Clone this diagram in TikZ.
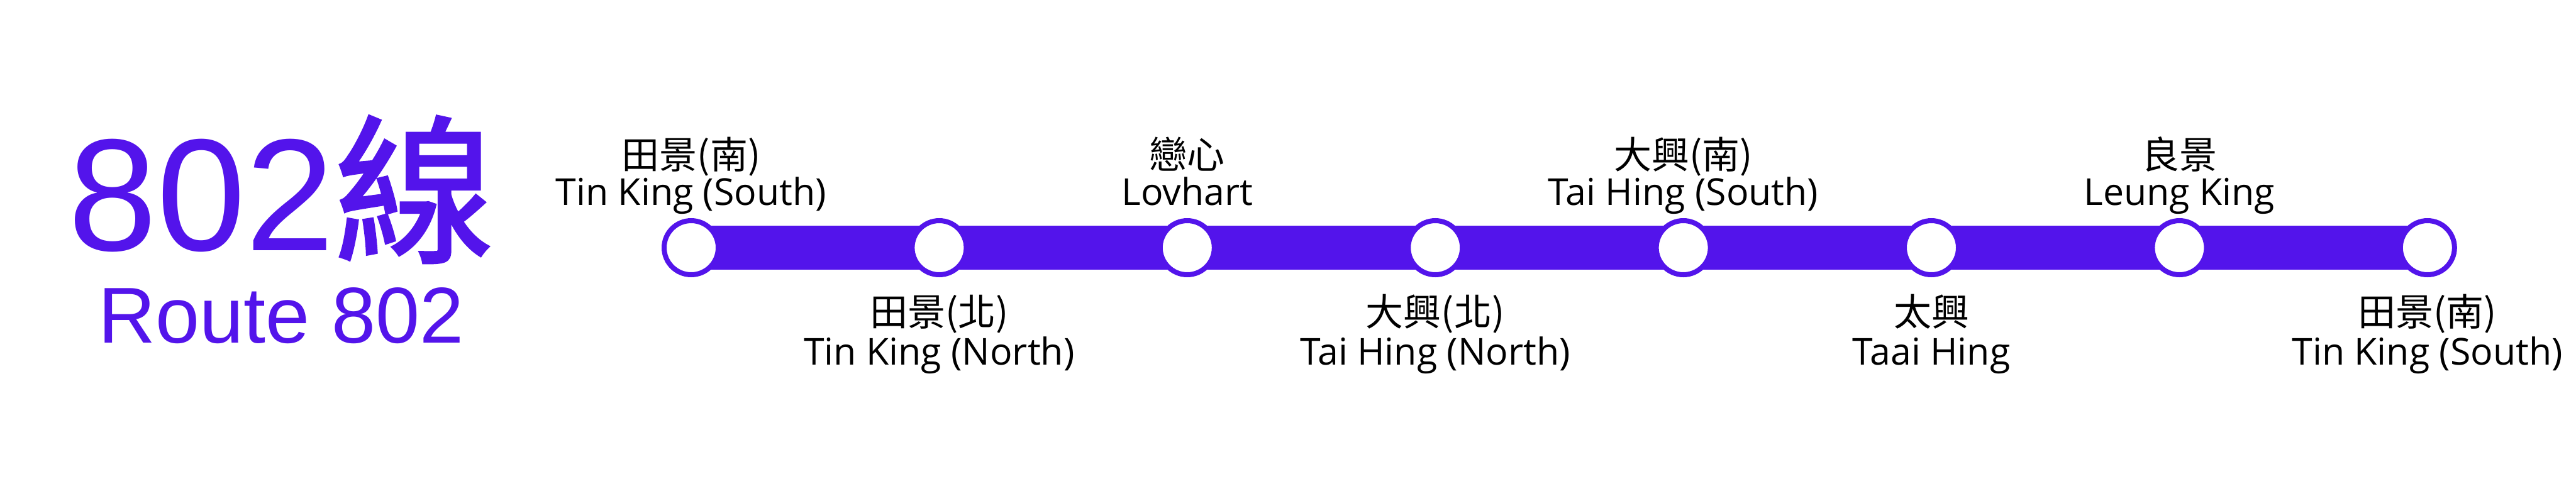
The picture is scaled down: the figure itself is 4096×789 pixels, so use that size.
\documentclass[tikz,border=0pt]{standalone}
\usepackage{fontspec}
\setmainfont{Open Sans}
\newfontfamily\cjk{Noto Sans CJK TC}
\newfontfamily\cjkbold[FakeBold=1.5]{Noto Sans CJK TC}
\newfontfamily\arial{Liberation Sans}
\definecolor{routepurple}{RGB}{83,20,235}
\begin{document}
\begin{tikzpicture}[x=1pt,y=-1pt,
  en/.style={inner sep=0pt, anchor=base, text=black, font=\fontsize{59}{59}\selectfont},
  zh/.style={inner sep=0pt, anchor=base, text=black, font=\cjk\fontsize{60}{60}\selectfont},
  stn/.style={circle, draw=routepurple, line width=8pt, fill=white, minimum size=86pt, inner sep=0pt},
  bar/.style={draw=routepurple, line width=70pt},
  ttl/.style={inner sep=0pt, anchor=base, text=routepurple}
]
\useasboundingbox (0,0) rectangle (4096,789);
\fill[white] (0,0) rectangle (4096,789);

\coordinate (p1) at (1099,394);
\coordinate (p2) at (1493.4,394);
\coordinate (p3) at (1887.8,394);
\coordinate (p4) at (2282.2,394);
\coordinate (p5) at (2676.6,394);
\coordinate (p6) at (3071,394);
\coordinate (p7) at (3465.4,394);
\coordinate (p8) at (3859.8,394);

\draw[bar] (p1) -- (p8);

\node[stn] (s1) at (p1) {};
\node[stn] (s2) at (p2) {};
\node[stn] (s3) at (p3) {};
\node[stn] (s4) at (p4) {};
\node[stn] (s5) at (p5) {};
\node[stn] (s6) at (p6) {};
\node[stn] (s7) at (p7) {};
\node[stn] (s8) at (p8) {};

% labels above
\node[zh] (z1) at (1099,268) {田景(南)};
\node[en] (e1) at (1099,326) {Tin King (South)};
\node[zh] (z3) at (1887.8,268) {戀心};
\node[en] (e3) at (1887.8,326) {Lovhart};
\node[zh] (z5) at (2676.6,268) {大興(南)};
\node[en] (e5) at (2676.6,326) {Tai Hing (South)};
\node[zh] (z7) at (3465.4,268) {良景};
\node[en] (e7) at (3465.4,326) {Leung King};

% labels below
\node[zh] (z2) at (1493.4,518) {田景(北)};
\node[en] (e2) at (1493.4,580) {Tin King (North)};
\node[zh] (z4) at (2282.2,518) {大興(北)};
\node[en] (e4) at (2282.2,580) {Tai Hing (North)};
\node[zh] (z6) at (3071,518) {太興};
\node[en] (e6) at (3071,580) {Taai Hing};
\node[zh] (z8) at (3859.8,518) {田景(南)};
\node[en] (e8) at (3859.8,580) {Tin King (South)};

% title
\node[ttl, font=\arial\fontsize{254}{254}\selectfont] (title) at (447,398) {802{\cjkbold 線}};
\node[ttl, font=\arial\fontsize{126}{126}\selectfont] (sub) at (447,545) {Route 802};
\end{tikzpicture}
\end{document}
